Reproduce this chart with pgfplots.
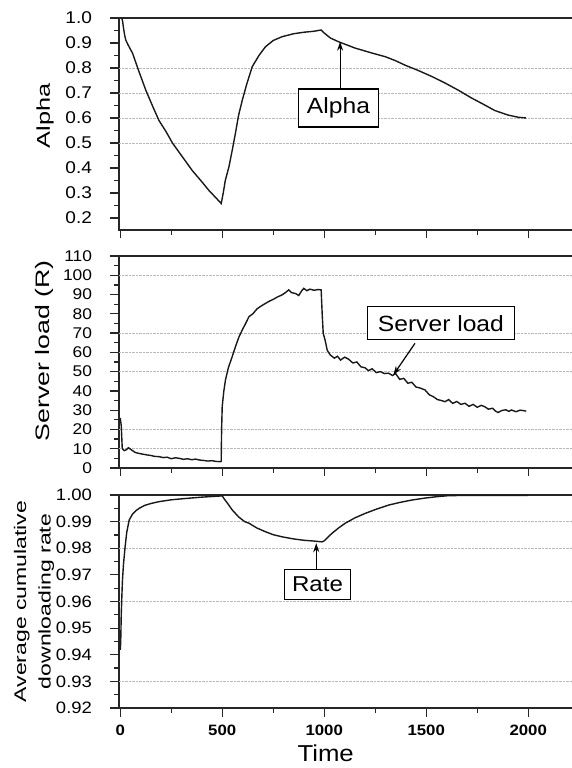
\documentclass[border=0pt]{standalone}
\usepackage{fontspec}
\setmainfont{Liberation Sans}[FakeStretch=1.12]
\newfontfamily\lblfont{Liberation Sans}[FakeStretch=1.37]
\usepackage{pgfplots}
\pgfplotsset{compat=1.18}
\usetikzlibrary{arrows.meta}
\pgfplotsset{
  panel/.style={
    scale only axis, width=470pt, xmin=-6, xmax=2298,
    anchor=south west, clip=false,
    axis line style={line width=1.4pt, black!85},
    xtick={0,500,1000,1500,2000}, minor x tick num=1,
    xtick pos=left, ytick pos=left,
    tick align=outside, major tick length=8.5pt, minor tick length=5pt,
    tick style={line width=1.2pt, black!85},
    tick label style={font=\fontsize{16.5}{18}\selectfont},
    yticklabel style={anchor=east, xshift=-15pt},
    xticklabel style={yshift=-5pt},
    /pgf/number format/assume math mode=true,
    /pgf/number format/set thousands separator={},
    extra y tick labels={},
    extra y tick style={grid=major, major grid style={densely dotted, gray!55, line width=0.9pt}, major tick length=0pt},
  },
  curve/.style={black!90, line width=1.4pt, mark=none},
}
\tikzset{
  box/.style={draw, line width=1.2pt, fill=white, inner sep=2pt, font=\fontsize{22}{24}\selectfont},
  arr/.style={line width=1.2pt, -{Stealth[length=9pt,width=6pt]}},
}
\begin{document}
\begin{tikzpicture}
\useasboundingbox (0,0) rectangle (572pt,768pt);
% ---------- Panel 1: Alpha ----------
\begin{axis}[panel, at={(119pt,538pt)}, height=212pt,
  ymin=0.152, ymax=1.0,
  ytick={0.2,0.3,0.4,0.5,0.6,0.7,0.8,0.9,1.0}, minor y tick num=1,
  yticklabel style={font=\fontsize{17}{19}\selectfont, /pgf/number format/.cd, fixed, fixed zerofill, precision=1},
  xticklabels={},
  extra y ticks={0.5,0.6,0.7,0.8}]
\addplot[curve] coordinates {
(8,1.0)(12,0.985)(16,0.96)(22,0.93)(28,0.91)(40,0.89)(60,0.86)(90,0.79)(126,0.71)(160,0.645)(190,0.59)(225,0.545)(256,0.50)(300,0.45)(353,0.39)(400,0.345)(435,0.31)(470,0.28)(495,0.258)
(505,0.30)(515,0.35)(533,0.405)(550,0.475)(565,0.54)(580,0.61)(598,0.67)(620,0.735)(647,0.805)(680,0.85)(712,0.885)(750,0.91)(793,0.925)(850,0.937)(900,0.943)(950,0.947)(985,0.952)
(1000,0.94)(1030,0.92)(1070,0.905)(1150,0.88)(1233,0.86)(1300,0.845)(1347,0.83)(1400,0.81)(1461,0.79)(1530,0.765)(1592,0.74)(1660,0.71)(1722,0.68)(1780,0.655)(1836,0.63)(1900,0.612)(1950,0.603)(1990,0.60)
};
\draw[arr] (axis cs:1078,0.716) -- (axis cs:1078,0.905);
\node[box, minimum width=80pt, minimum height=38pt] at (axis cs:1070,0.64) {Alpha};
\node[rotate=90, font=\lblfont\fontsize{18.5}{22}\selectfont] at ([xshift=-74pt,yshift=8pt]rel axis cs:0,0.5) {Alpha};
\end{axis}
% ---------- Panel 2: Server load ----------
\begin{axis}[panel, at={(119pt,300pt)}, height=212pt,
  ymin=0, ymax=110,
  ytick={0,10,20,30,40,50,60,70,80,90,100,110}, minor y tick num=1,
  yticklabel style={font=\fontsize{15.5}{17}\selectfont},
  xticklabels={},
  extra y ticks={10,20,50,60,70,100}]
\addplot[curve] coordinates {
(0,26)(5,22)(10,10)(20,9)(30,9.5)(40,10.5)(50,9.8)(60,9)(75,8)(90,7.6)(110,7.2)(130,6.8)(150,6.5)(170,6)(190,5.9)(210,5.4)(230,5.6)(250,4.8)(270,5.3)(290,5)(310,4.5)(330,4.8)(350,4.3)(370,4.6)(390,4.1)(410,3.9)(430,3.6)(450,3.8)(470,3.4)(490,3.3)(495,3.5)
(497,20)(500,32)(508,40)(516,45.7)(530,52)(549,57.8)(565,63)(582,68)(600,72)(615,75)(631,78.5)(650,80)(670,82.5)(690,84)(712,85.4)(730,86.5)(750,87.5)(770,88.7)(793,89.8)(810,91)(826,92.4)(840,91)(860,90.5)(875,89.5)(890,92)(900,93.2)(915,92)(930,92.8)(950,92.2)(970,92.6)(985,92.4)
(990,80)(995,70)(1005,66)(1015,61)(1030,58.6)(1050,57)(1065,58)(1080,56)(1100,57.5)(1119,56.5)(1140,54.5)(1160,55)(1180,52.5)(1200,52)(1217,50.5)(1235,51.5)(1255,49.5)(1275,50)(1295,49)(1315,49.2)(1335,48)(1350,49)(1370,46)(1390,46.5)(1410,44)(1429,44.5)(1450,42)(1470,41.5)(1494,40.5)(1515,38)(1535,37)(1555,35.5)(1575,35)(1592,34.4)(1610,35.5)(1630,33.5)(1650,34.5)(1670,33)(1690,33.6)(1710,32)(1730,33)(1750,31.5)(1770,32.5)(1787,31.8)(1805,30.5)(1825,31)(1840,29.5)(1852,28.8)(1870,29.8)(1890,30.2)(1905,29.4)(1918,30.1)(1940,29.2)(1960,30)(1975,29.8)(1990,29.5)
};
\draw[arr] (axis cs:1445,64.7) -- (axis cs:1339,48.3);
\node[box, minimum width=147pt, minimum height=33pt] at (axis cs:1572,75.1) {Server load};
\node[rotate=90, font=\lblfont\fontsize{19.5}{22}\selectfont] at ([xshift=-75pt,yshift=11pt]rel axis cs:0,0.5) {Server load (R)};
\end{axis}
% ---------- Panel 3: Rate ----------
\begin{axis}[panel, at={(119pt,60pt)}, height=213pt,
  ymin=0.92, ymax=1.0,
  ytick={0.92,0.93,0.94,0.95,0.96,0.97,0.98,0.99,1.00}, minor y tick num=1,
  yticklabel style={/pgf/number format/.cd, fixed, fixed zerofill, precision=2},
  xticklabel style={font=\fontsize{15}{17}\selectfont\bfseries},
  extra y ticks={0.93,0.96,0.98,0.99}]
\addplot[curve] coordinates {
(0,0.9418)(2,0.944)(3,0.947)(5,0.955)(8,0.962)(11,0.968)(16,0.974)(24,0.9806)(32,0.986)(44,0.9906)(60,0.9928)(75,0.994)(93,0.995)(120,0.9961)(150,0.9968)(190,0.9975)(250,0.9982)(321,0.9987)(400,0.9992)(484,0.9996)(500,0.9997)
(510,0.9985)(525,0.997)(549,0.9944)(580,0.9918)(610,0.99)(631,0.9894)(670,0.9876)(712,0.9862)(750,0.9851)(793,0.9843)(850,0.9835)(900,0.983)(950,0.9827)(990,0.9824)
(1000,0.9828)(1020,0.9843)(1038,0.9856)(1070,0.9876)(1103,0.9894)(1150,0.9914)(1201,0.9931)(1260,0.9948)(1315,0.9962)(1370,0.9972)(1429,0.9981)(1490,0.9988)(1543,0.9993)(1600,0.9997)(1650,0.9998)(1700,0.9998)(1800,0.9998)(1900,0.9998)(2000,0.9998)
};
\draw[arr] (axis cs:961,0.9721) -- (axis cs:961,0.9819);
\node[box, minimum width=66pt, minimum height=30pt, font=\fontsize{21.5}{24}\selectfont] at (axis cs:967,0.96646) {Rate};
\node[rotate=90, align=center, font=\lblfont\fontsize{16.8}{24.5}\selectfont] at ([xshift=-85pt,yshift=0pt]rel axis cs:0,0.5) {Average cumulative\\downloading rate};
\node[font=\fontsize{23}{25}\selectfont] at ([yshift=-45pt]axis cs:1007,0.92) {Time};
\end{axis}
\end{tikzpicture}
\end{document}
